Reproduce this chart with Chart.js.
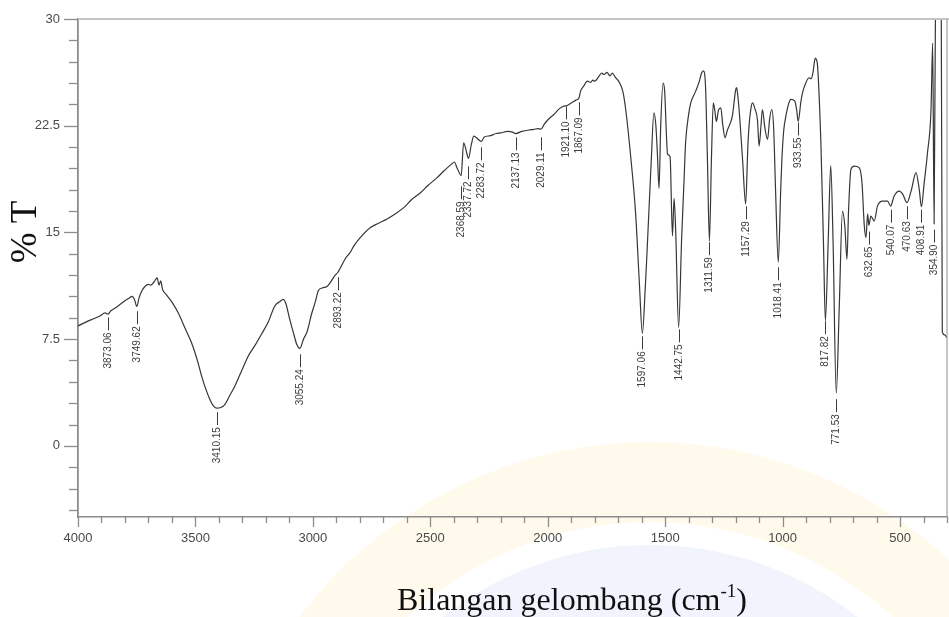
<!DOCTYPE html>
<html>
<head>
<meta charset="utf-8">
<script src="https://cdn.jsdelivr.net/npm/chart.js@4.4.1/dist/chart.umd.min.js"></script>
<style>
  html, body { margin: 0; padding: 0; background: #ffffff; }
  #wrap { width: 949px; height: 617px; position: relative; }
  canvas { display: block; }
</style>
</head>
<body>
<div id="wrap"><canvas id="ir" width="949" height="617"></canvas></div>
<script>
// FTIR spectrum: wavenumber (cm-1) and % transmittance
const wavenumber = [
  4000, 3960, 3930, 3905, 3885, 3873.06, 3860, 3840, 3820, 3800, 3785, 3770, 3760, 3749.62, 3740,
  3728, 3715, 3700, 3690, 3675, 3663, 3655, 3648, 3640, 3625, 3600, 3574, 3545, 3517, 3490,
  3474, 3455, 3439, 3425, 3410.15, 3392, 3375, 3355, 3332, 3300, 3275, 3245, 3219, 3190, 3162,
  3140, 3126, 3115, 3100, 3083, 3068, 3055.24, 3040, 3025, 3005, 2990, 2977, 2960, 2940, 2925,
  2905, 2893.22, 2885, 2860, 2841, 2826, 2800, 2755, 2720, 2684, 2650, 2613, 2580, 2542, 2510,
  2471, 2440, 2410, 2398, 2385, 2368.59, 2358, 2345, 2337.72, 2325, 2315, 2300, 2283.72, 2270, 2244,
  2220, 2200, 2170, 2150, 2137.13, 2110, 2080, 2059, 2040, 2029.11, 2015, 2000, 1974, 1950, 1931,
  1921.10, 1900, 1880, 1867.09, 1860, 1846, 1832, 1817, 1808, 1800, 1785, 1770, 1760, 1748, 1735,
  1725, 1712, 1704, 1697, 1680, 1668, 1647, 1626, 1610, 1597.06, 1585, 1576, 1559, 1548, 1540,
  1533, 1526, 1519, 1509, 1502, 1495, 1490, 1479, 1469, 1462, 1455, 1442.75, 1430, 1420, 1413,
  1400, 1391, 1370, 1355, 1345, 1337, 1328, 1320, 1311.59, 1303, 1295, 1288, 1282, 1273, 1263,
  1255, 1245, 1235, 1228, 1214, 1200, 1196, 1190, 1182, 1170, 1157.29, 1148, 1143, 1135, 1128,
  1118, 1107, 1100, 1092, 1086, 1075, 1064, 1055, 1046, 1038, 1030, 1018.41, 1008, 1003, 995,
  986, 975, 965, 948, 940, 933.55, 922, 915, 901, 887, 878, 870, 861, 855, 851,
  837, 826, 817.82, 806, 795, 785, 771.53, 759, 745, 735, 726, 719, 709, 695, 674,
  662, 652, 645, 638, 632.65, 624, 610, 596, 574, 553, 540.07, 525, 503, 488, 470.63,
  453, 432, 418, 408.91, 397, 383, 368, 361, 354.90, 349, 340, 325, 320, 310, 300
];
const transmittance = [
  8.43, 8.75, 8.95, 9.15, 9.35, 9.25, 9.5, 9.7, 9.95, 10.2, 10.35, 10.5, 10.3, 9.8, 10.4,
  10.9, 11.2, 11.35, 11.3, 11.55, 11.8, 11.3, 11.6, 11.0, 10.65, 10.1, 9.37, 8.3, 7.26, 5.9,
  4.92, 3.95, 3.28, 2.85, 2.65, 2.7, 2.9, 3.5, 4.21, 5.4, 6.32, 7.1, 7.84, 8.7, 9.83,
  10.15, 10.3, 10.0, 9.0, 7.96, 7.1, 6.85, 7.5, 8.0, 9.3, 10.1, 10.9, 11.1, 11.2, 11.5,
  12.0, 12.2, 12.45, 13.2, 13.6, 14.04, 14.6, 15.34, 15.65, 15.95, 16.3, 16.74, 17.3, 17.79, 18.3,
  18.85, 19.35, 19.8, 19.95, 19.5, 19.0, 21.3, 20.6, 20.2, 21.2, 21.77, 21.6, 21.4, 21.7, 21.8,
  21.95, 22.0, 22.1, 22.05, 21.95, 22.1, 22.2, 22.24, 22.3, 22.25, 22.6, 22.9, 23.29, 23.7, 23.88,
  23.9, 24.1, 24.3, 24.45, 24.93, 25.3, 25.63, 25.55, 25.7, 25.63, 25.9, 26.2, 26.1, 26.25, 26.0,
  26.2, 25.9, 25.75, 25.6, 24.9, 23.64, 20.37, 16.39, 11.5, 7.9, 11.0, 14.04, 20.13, 23.41, 22.6,
  20.5, 18.1, 22.47, 25.5, 24.9, 22.0, 20.5, 20.3, 14.75, 17.4, 15.0, 8.3, 14.5, 18.5, 21.3,
  23.3, 24.1, 24.93, 25.6, 26.2, 26.35, 25.2, 20.13, 14.4, 20.13, 24.1, 23.5, 22.8, 23.6, 23.76,
  22.6, 21.65, 22.2, 22.47, 23.17, 25.0, 25.17, 24.5, 22.94, 20.0, 17.0, 21.0, 22.47, 23.7, 24.1,
  23.7, 22.9, 21.07, 22.5, 23.64, 22.3, 21.54, 23.0, 23.64, 22.3, 18.0, 12.9, 18.0, 20.13, 22.2,
  23.17, 24.0, 24.35, 24.23, 23.6, 22.8, 24.2, 24.82, 25.52, 25.87, 25.8, 26.3, 27.25, 27.1, 26.69,
  21.3, 14.28, 8.8, 14.28, 19.7, 14.28, 3.7, 9.6, 16.5, 15.45, 13.11, 16.62, 19.43, 19.66, 19.55,
  18.5, 15.45, 14.63, 16.3, 15.5, 16.15, 15.8, 16.85, 17.2, 17.2, 16.85, 17.56, 17.9, 17.67, 17.09,
  17.9, 19.2, 18.0, 16.8, 18.5, 20.6, 23.64, 28.3, 15.6, 31.0, 33.0, 33.0, 8.0, 7.8, 7.6
];

// Labelled band positions and the % T level where each label's leader starts
const peakPositions = [
  3873.06, 3749.62, 3410.15, 3055.24, 2893.22, 2368.59, 2337.72, 2283.72, 2137.13, 2029.11,
  1921.10, 1867.09, 1597.06, 1442.75, 1311.59, 1157.29, 1018.41, 933.55, 817.82, 771.53,
  632.65, 540.07, 470.63, 408.91, 354.90
];
const peakLabelLevels = [
  9.03, 9.46, 2.37, 6.44, 11.85, 18.24, 19.64, 20.98, 21.68, 21.68,
  23.86, 24.14, 7.70, 8.19, 14.31, 16.84, 12.55, 22.73, 8.76, 3.28,
  15.06, 16.6, 16.84, 16.6, 15.2
];

const xTickValues = [4000, 3500, 3000, 2500, 2000, 1500, 1000, 500];
const yTickValues = [0, 7.5, 15, 22.5, 30];
const xMinorStep = 100;
const yMinorStep = 1.5;

const AXIS_GREY = '#8c8c8c';

// faint emblem printed behind the plot
const emblem = {
  id: 'emblem',
  beforeDraw(chart) {
    const ctx = chart.ctx;
    const cx = 650, cy = 880;
    ctx.save();
    ctx.beginPath();
    ctx.arc(cx, cy, 335, 0, Math.PI * 2);
    ctx.fillStyle = 'rgba(170,180,240,0.16)';
    ctx.fill();
    ctx.beginPath();
    ctx.arc(cx, cy, 398, 0, Math.PI * 2);
    ctx.lineWidth = 80;
    ctx.strokeStyle = 'rgba(252,222,110,0.14)';
    ctx.stroke();
    ctx.restore();
  }
};

// frame, major/minor tick marks, axis titles
const frame = {
  id: 'frame',
  afterDraw(chart) {
    const ctx = chart.ctx;
    const a = chart.chartArea;
    const xs = chart.scales.x, ys = chart.scales.y;
    ctx.save();
    // top and right edges of the plot box
    ctx.strokeStyle = '#c4c4c4';
    ctx.lineWidth = 2;
    ctx.beginPath();
    ctx.moveTo(a.left, a.top);
    ctx.lineTo(chart.width, a.top);
    ctx.stroke();
    ctx.strokeStyle = '#a0a0a0';
    ctx.lineWidth = 1.2;
    ctx.beginPath();
    ctx.moveTo(a.right, a.top);
    ctx.lineTo(a.right, a.bottom);
    ctx.stroke();

    ctx.strokeStyle = AXIS_GREY;
    ctx.lineWidth = 1.3;
    // x tick marks
    for (let v = xs.max; v >= xs.min - 1e-6; v -= xMinorStep) {
      const px = Math.round(xs.getPixelForValue(v)) + 0.5;
      const major = xTickValues.includes(v);
      ctx.beginPath();
      ctx.moveTo(px, a.bottom);
      ctx.lineTo(px, a.bottom + (major ? 10 : 6));
      ctx.stroke();
    }
    // y tick marks
    for (let i = 0; ; i++) {
      const v = -4.5 + i * yMinorStep;
      if (v > ys.max + 1e-6) break;
      const py = Math.round(ys.getPixelForValue(v)) + 0.5;
      const major = yTickValues.some(t => Math.abs(t - v) < 1e-6);
      ctx.beginPath();
      ctx.moveTo(a.left, py);
      ctx.lineTo(a.left - (major ? 14 : 9), py);
      ctx.stroke();
    }

    // axis titles
    ctx.fillStyle = '#111111';
    ctx.save();
    ctx.translate(36, 232);
    ctx.rotate(-Math.PI / 2);
    ctx.font = '37px "Liberation Serif", "Times New Roman", serif';
    ctx.textAlign = 'center';
    ctx.textBaseline = 'alphabetic';
    ctx.fillText('% T', 0, 0);
    ctx.restore();

    const main = 'Bilangan gelombang (cm';
    ctx.font = '32px "Liberation Serif", "Times New Roman", serif';
    ctx.textAlign = 'left';
    ctx.textBaseline = 'alphabetic';
    let tx = 397;
    const base = 610;
    ctx.fillText(main, tx, base);
    tx += ctx.measureText(main).width;
    ctx.font = '19px "Liberation Serif", "Times New Roman", serif';
    ctx.fillText('-1', tx, base - 13);
    tx += ctx.measureText('-1').width;
    ctx.font = '32px "Liberation Serif", "Times New Roman", serif';
    ctx.fillText(')', tx, base);
    ctx.restore();
  }
};

// rotated band labels with their short leader lines
const bandLabels = {
  id: 'bandLabels',
  afterDatasetsDraw(chart) {
    const ctx = chart.ctx;
    const xs = chart.scales.x, ys = chart.scales.y;
    ctx.save();
    ctx.strokeStyle = '#3c3c3c';
    ctx.fillStyle = '#3c3c3c';
    ctx.lineWidth = 1;
    ctx.font = '10px "Liberation Sans", Arial, sans-serif';
    peakPositions.forEach((wn, i) => {
      const px = Math.round(xs.getPixelForValue(wn)) + 0.5;
      const top = ys.getPixelForValue(peakLabelLevels[i]);
      ctx.beginPath();
      ctx.moveTo(px, top);
      ctx.lineTo(px, top + 13);
      ctx.stroke();
      ctx.save();
      ctx.translate(px, top + 15);
      ctx.rotate(-Math.PI / 2);
      ctx.textAlign = 'right';
      ctx.textBaseline = 'middle';
      ctx.fillText(wn.toFixed(2), 0, 0);
      ctx.restore();
    });
    ctx.restore();
  }
};

const points = wavenumber.map((w, i) => ({ x: w, y: transmittance[i] }));

new Chart(document.getElementById('ir'), {
  type: 'scatter',
  data: {
    datasets: [{
      data: points,
      showLine: true,
      borderColor: '#363636',
      borderWidth: 1.2,
      pointRadius: 0,
      cubicInterpolationMode: 'monotone',
      fill: false
    }]
  },
  options: {
    responsive: false,
    animation: false,
    devicePixelRatio: 1,
    layout: { padding: { top: 19, right: 2, left: 0, bottom: 0 } },
    plugins: { legend: { display: false }, tooltip: { enabled: false } },
    scales: {
      x: {
        type: 'linear',
        reverse: true,
        min: 300,
        max: 4000,
        afterBuildTicks: s => { s.ticks = xTickValues.map(v => ({ value: v })); },
        afterFit: s => { s.height = 100; },
        grid: { display: false, drawTicks: true, tickLength: 10 },
        border: { display: true, color: AXIS_GREY, width: 1.5 },
        ticks: {
          color: '#4a4a4a',
          font: { family: '"Liberation Sans", Arial, sans-serif', size: 13 },
          padding: 4,
          maxRotation: 0,
          autoSkip: false,
          callback: v => String(v)
        }
      },
      y: {
        type: 'linear',
        min: -5,
        max: 30,
        afterBuildTicks: s => { s.ticks = yTickValues.map(v => ({ value: v })); },
        afterFit: s => { s.width = 78; },
        grid: { display: false, drawTicks: true, tickLength: 14 },
        border: { display: true, color: AXIS_GREY, width: 1.8 },
        ticks: {
          color: '#4a4a4a',
          font: { family: '"Liberation Sans", Arial, sans-serif', size: 13 },
          padding: 4,
          autoSkip: false,
          callback: v => String(v)
        }
      }
    }
  },
  plugins: [emblem, frame, bandLabels]
});
</script>
</body>
</html>
